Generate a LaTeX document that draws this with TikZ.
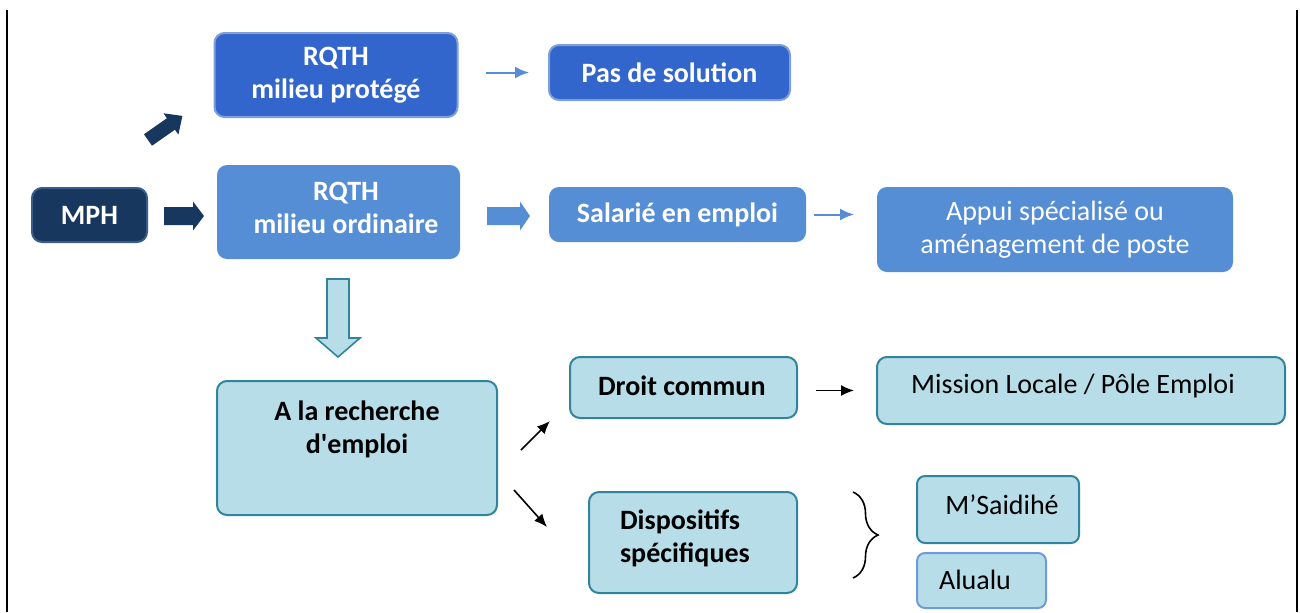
\documentclass[tikz,border=0pt]{standalone}
\usepackage{fontspec}
\newfontfamily\carl{Carlito}
\usetikzlibrary{arrows.meta,decorations.pathreplacing,calc}
\definecolor{navy}{HTML}{17375E}
\definecolor{navyedge}{HTML}{385D8A}
\definecolor{royal}{HTML}{3366CC}
\definecolor{royaledge}{HTML}{7F9FDB}
\definecolor{midblue}{HTML}{558ED5}
\definecolor{paleblue}{HTML}{B7DDE8}
\definecolor{tealedge}{HTML}{31849B}
\definecolor{softedge}{HTML}{6E9BD9}
\tikzset{
  box/.style={rectangle, rounded corners=5pt, inner sep=0pt, line width=1pt},
  darkbox/.style={box, fill=navy, draw=navyedge},
  topbox/.style={box, fill=royal, draw=royaledge},
  midbox/.style={box, fill=midblue},
  palebox/.style={box, fill=paleblue, draw=tealedge},
  boldtxt/.style={font=\carl\bfseries\fontsize{14}{16.5}\selectfont, align=center},
  plaintxt/.style={font=\carl\fontsize{14}{16.5}\selectfont, align=center},
  thinblue/.style={draw=midblue, line width=1pt, -{Latex[length=7pt,width=6pt]}},
  thinblack/.style={draw=black, line width=0.8pt, -{Latex[length=6.5pt,width=5.5pt]}},
}
% block arrow: #1 style, (#2,#3) tail centre, #4 angle, #5 length,
% #6 head length, #7 shaft half width, #8 head half width
\newcommand\blockarr[8]{%
  \begin{scope}[shift={(#2,#3)}, rotate=#4]
    \path[#1] (0,-#7) -- (#5-#6,-#7) -- (#5-#6,-#8) -- (#5,0)
      -- (#5-#6,#8) -- (#5-#6,#7) -- (0,#7) -- cycle;
  \end{scope}}
\begin{document}
\begin{tikzpicture}[x=0.5pt,y=-0.5pt]
\useasboundingbox (0,0) rectangle (1300,612);

% page rules on both sides
\draw[line width=1.2pt] (7,10) -- (7,612);
\draw[line width=1.2pt] (1297,10) -- (1297,612);

% boxes
\node[darkbox, minimum width=57.5pt, minimum height=27pt, text=white, boldtxt] (mph) at (89.5,215) {MPH};
\node[topbox, minimum width=121.5pt, minimum height=42pt, text=white, boldtxt] (prot) at (336,75) {RQTH\\milieu protégé};
\node[topbox, minimum width=120.5pt, minimum height=27.5pt, text=white, boldtxt] (pas) at (669.5,72.5) {Pas de solution};
\node[midbox, minimum width=121.5pt, minimum height=47pt] (ord) at (338.5,212) {};
\node[boldtxt, text=white] (ordtxt) at (346,208) {RQTH\\milieu ordinaire};
\node[midbox, minimum width=128.5pt, minimum height=27.5pt, text=white, boldtxt] (sal) at (677.5,214.5) {Salarié en emploi};
\node[midbox, minimum width=178pt, minimum height=42.5pt, text=white, plaintxt] (app) at (1055,229.5) {Appui spécialisé ou\\aménagement de poste};

\node[palebox, minimum width=140pt, minimum height=67pt] (rech) at (357,448) {};
\node[boldtxt] (rechtxt) at (357,429) {A la recherche\\d'emploi};
\node[palebox, minimum width=113.5pt, minimum height=30.5pt] (droit) at (683.5,387.5) {};
\node[boldtxt, anchor=west] (droittxt) at (591,386) {Droit commun};
\node[palebox, minimum width=204pt, minimum height=33.5pt] (miss) at (1081,390.5) {};
\node[plaintxt] (misstxt) at (1073,386) {Mission Locale / Pôle Emploi};
\node[palebox, minimum width=104pt, minimum height=50.5pt] (disp) at (693,542.5) {};
\node[boldtxt, anchor=west, align=left] (disptxt) at (613,538) {Dispositifs\\spécifiques};
\node[palebox, rounded corners=4pt, minimum width=81pt, minimum height=33.5pt] (msai) at (998,509.5) {};
\node[plaintxt] (msaitxt) at (1002,505) {M’Saidihé};
\node[palebox, draw=softedge, rounded corners=4pt, minimum width=64.5pt, minimum height=27.5pt] (alu) at (981.5,580.5) {};
\node[plaintxt] (alutxt) at (975,580) {Alualu};

% block arrows
\blockarr{fill=navy}{164}{216}{0}{40}{11}{9}{14.5}
\blockarr{fill=navy}{148}{140}{35}{42}{14}{7}{13}
\blockarr{fill=midblue}{487}{216}{0}{43}{10}{9}{14.5}
\blockarr{fill=paleblue, draw=tealedge, line width=0.8pt}{338}{279}{-90}{78}{19}{11}{22}

% thin connectors
\draw[thinblue, shorten <=13.5pt, shorten >=9.5pt] (pas.west -| prot.east) -- (pas.west);
\draw[thinblue, shorten <=3.5pt, shorten >=11pt] (sal.east) -- (sal.east -| app.west);
\draw[thinblack, shorten <=9pt, shorten >=11pt] (droit.east |- miss.west) -- (miss.west);
\draw[thinblack] ($(rech.east)+(23,2)$) -- ($(droit.south west)+(-19,2)$);
\draw[thinblack] ($(rech.east)+(16,42)$) -- ($(disp.west)+(-41,-15.5)$);

% brace grouping the specific schemes
\draw[line width=0.8pt, decorate, decoration={brace, amplitude=12.5pt}] (853,492) -- (853,578);
\end{tikzpicture}
\end{document}
